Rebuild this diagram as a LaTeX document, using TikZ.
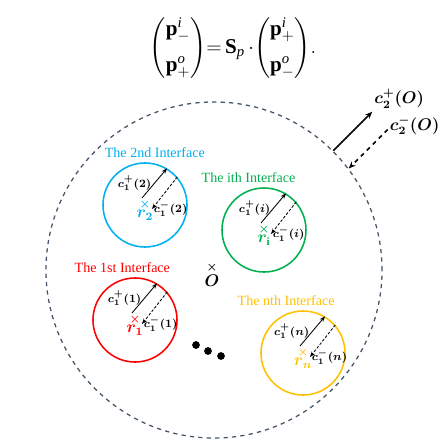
\documentclass[tikz,border=0pt]{standalone}
\usepackage{amsmath,bm}
\usepackage{fontspec}
\setmainfont{Liberation Serif}
\usetikzlibrary{arrows.meta, calc, positioning}

\definecolor{ifcyan}{HTML}{00B0F0}
\definecolor{ifgreen}{HTML}{00B050}
\definecolor{ifred}{HTML}{FF0000}
\definecolor{ifgold}{HTML}{FFC000}
\definecolor{outline}{HTML}{44546A}

\begin{document}
\begin{tikzpicture}[
    x=0.025cm, y=-0.025cm,
    iface/.style={draw, circle, line width=1.1pt, minimum size=2.1cm, inner sep=0pt},
    ifname/.style={font=\fontsize{10}{12}\selectfont, inner sep=0pt},
    centre/.style={font=\footnotesize, inner sep=0pt},
    rlabel/.style={font=\large, inner sep=0pt},
    clabel/.style={font=\footnotesize, inner sep=1pt},
    olabel/.style={font=\large, inner sep=1pt},
    cplus/.style={line width=0.6pt, -{Stealth[length=4pt,width=3pt]}},
    cminus/.style={cplus, dash pattern=on 2pt off 1.2pt},
    cout/.style={line width=1.1pt, -{Stealth[length=5pt,width=4pt]}},
    dotmark/.style={circle, fill, inner sep=0pt, minimum size=5.5pt}
]
    \useasboundingbox (0,0) rectangle (441,443);

    % Equation
    \node (eq) at (233,48) {\fontsize{15}{18.5}\selectfont$\left(\begin{array}{@{}c@{}}\textbf{p}^{\textit{i}}_{-}\\[7pt]\textbf{p}^{\textit{o}}_{+}\end{array}\right)\!{=}\,\textbf{S}_{\textit{p}}\,{\cdot}\!\left(\begin{array}{@{}c@{}}\textbf{p}^{\textit{i}}_{+}\\[7pt]\textbf{p}^{\textit{o}}_{-}\end{array}\right)\!.$};

    % Outer boundary
    \node[draw=outline, circle, dashed, line width=0.9pt, minimum size=8.4cm, inner sep=0pt] (outer) at (214,270) {};
    \coordinate (cpo) at ($(outer.45)+(39,-39)$);
    \coordinate (cmo) at ($(outer.37)+(39,-39)$);
    \draw[cout] (outer.45) -- (cpo) node[olabel, anchor=south west, yshift=1pt] {$\bm{c_{2}^{+}(O)}$};
    \draw[cout, dashed] (cmo) node[olabel, anchor=west, yshift=3pt] {$\bm{c_{2}^{-}(O)}$} -- (outer.37);

    \node[centre] (o) at (212,268) {$\bm{\times}$};
    \node[rlabel, below=1pt of o] (olab) {$\bm{O}$};

    % The 2nd interface
    \node[iface, draw=ifcyan] (if2) at (145,205) {};
    \node[ifname, text=ifcyan, above=3pt of if2, xshift=7] (t2) {The 2nd Interface};
    \node[centre, text=ifcyan] (x2) at (if2.center) {$\bm{\times}$};
    \node[rlabel, text=ifcyan, below=0pt of x2] (r2) {$\bm{r_{2}}$};
    \coordinate (s2) at ($(if2.center)+(-3,-7)$);
    \coordinate (e2) at ($(if2.center)+(7,4)$);
    \draw[cplus] (s2) -- (if2.59) node[midway, left=1pt, clabel] {$\bm{c_{1}^{+}(2)}$};
    \draw[cminus] (if2.41) -- (e2) node[right, clabel] {$\bm{c_{1}^{-}(2)}$};

    % The ith interface
    \node[iface, draw=ifgreen] (ifi) at (264,230) {};
    \node[ifname, text=ifgreen, above=3pt of ifi, xshift=-11] (ti) {The ith Interface};
    \node[centre, text=ifgreen] (xi) at (ifi.center) {$\bm{\times}$};
    \node[rlabel, text=ifgreen, below=0pt of xi] (ri) {$\bm{r_{\mathrm{i}}}$};
    \coordinate (si) at ($(ifi.center)+(-3,-7)$);
    \coordinate (ei) at ($(ifi.center)+(7,4)$);
    \draw[cplus] (si) -- (ifi.59) node[midway, left=1pt, clabel] {$\bm{c_{1}^{+}(i)}$};
    \draw[cminus] (ifi.41) -- (ei) node[right, clabel] {$\bm{c_{1}^{-}(i)}$};

    % The 1st interface
    \node[iface, draw=ifred] (if1) at (135,320) {};
    \node[ifname, text=ifred, above=3pt of if1, xshift=-9] (t1) {The 1st Interface};
    \node[centre, text=ifred] (x1) at (if1.center) {$\bm{\times}$};
    \node[rlabel, text=ifred, below=0pt of x1] (r1) {$\bm{r_{1}}$};
    \coordinate (s1) at ($(if1.center)+(-3,-7)$);
    \coordinate (e1) at ($(if1.center)+(7,4)$);
    \draw[cplus] (s1) -- (if1.59) node[midway, left=1pt, clabel] {$\bm{c_{1}^{+}(1)}$};
    \draw[cminus] (if1.41) -- (e1) node[right, clabel] {$\bm{c_{1}^{-}(1)}$};

    % The nth interface
    \node[iface, draw=ifgold] (ifn) at (303,353) {};
    \node[ifname, text=ifgold, above=3pt of ifn, xshift=-12] (tn) {The nth Interface};
    \node[centre, text=ifgold] (xn) at (ifn.center) {$\bm{\times}$};
    \node[rlabel, text=ifgold, below=0pt of xn] (rn) {$\bm{r_{n}}$};
    \coordinate (sn) at ($(ifn.center)+(-3,-7)$);
    \coordinate (en) at ($(ifn.center)+(7,4)$);
    \draw[cplus] (sn) -- (ifn.59) node[midway, left=1pt, clabel] {$\bm{c_{1}^{+}(n)}$};
    \draw[cminus] (ifn.41) -- (en) node[right, clabel] {$\bm{c_{1}^{-}(n)}$};

    % Dots
    \node[dotmark] (d1) at (196,345) {};
    \node[dotmark] (d2) at (208,351) {};
    \node[dotmark] (d3) at (221,356) {};
\end{tikzpicture}
\end{document}
